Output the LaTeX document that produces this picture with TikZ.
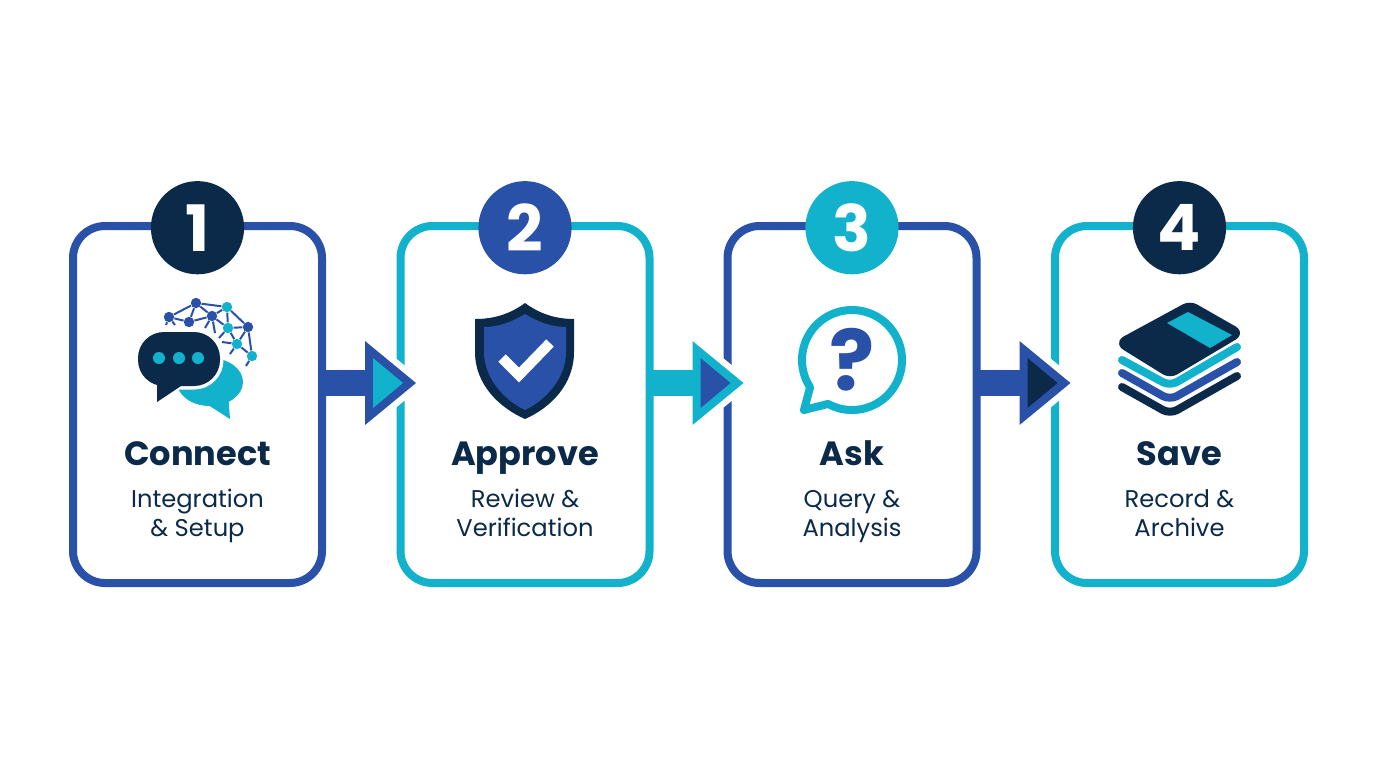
\documentclass[tikz,border=0pt]{standalone}
\usepackage{fontspec}
\setmainfont{Poppins}
\usetikzlibrary{calc}
\definecolor{stepblue}{HTML}{2A51A8}
\definecolor{stepteal}{HTML}{12B2CD}
\definecolor{stepnavy}{HTML}{0B2A4A}
\tikzset{
stepbox/.style={draw, line width=4pt, fill=white, rounded corners=16pt, minimum width=124.5pt, minimum height=178.5pt, inner sep=0pt, outer sep=0pt},
numdisc/.style={circle, minimum size=46.6pt, inner sep=0pt, text=white, font=\fontsize{32}{32}\selectfont\bfseries},
titletext/.style={anchor=base, text=stepnavy, inner sep=0pt, font=\fontsize{16.8}{16.8}\selectfont\bfseries},
subtext/.style={anchor=base, text=stepnavy, inner sep=0pt, font=\fontsize{12.1}{12.1}\selectfont},
netnode/.style={circle, minimum size=5.2pt, inner sep=0pt},
netline/.style={stepblue, line width=1pt},
layer/.style={line width=4pt, line cap=round, line join=round, rounded corners=4pt}
}
\begin{document}
\begin{tikzpicture}[x=.5pt,y=-.5pt]
\useasboundingbox (0,0) rectangle (1376,768);
\fill[white] (0,0) rectangle (1376,768);
\coordinate (level) at (0,383);
\foreach \i/\x/\c/\f/\n/\t/\a/\b in {
1/197.5/stepblue/stepnavy/1/Connect/Integration/\& Setup,
2/525/stepteal/stepblue/2/Approve/Review \&/Verification,
3/852/stepblue/stepteal/3/Ask/Query \&/Analysis,
4/1179.5/stepteal/stepnavy/4/Save/Record \&/Archive}{
\node[stepbox, draw=\c] (box\i) at (\x,404.5) {};
\node[numdisc, fill=\f] (num\i) at (\x,227.7) {\n};
\node[titletext] (title\i) at (\x,465) {\t};
\node[subtext] (suba\i) at (\x,507) {\a};
\node[subtext] (subb\i) at (\x,536) {\b};
}
% arrows between the boxes
\foreach \i/\c/\d in {1/stepblue/stepteal,2/stepteal/stepblue,3/stepblue/stepnavy}{
\coordinate (start\i) at (box\i.east |- level);
\begin{scope}[shift={(start\i)}]
\coordinate (back\i) at (44,0);
\draw[white, line width=6.3pt, miter limit=10] (43,-42)--(94,0)--(43,42)--cycle;
\draw[\c, line width=13pt] (start\i)--(back\i);
\fill[\c] (43,-42)--(94,0)--(43,42)--cycle;
\fill[\d] (51,-25)--(81,0)--(51,25)--cycle;
\end{scope}
}
% connect icon
\foreach \name/\x/\y/\c in {na/169/317/stepblue,nb/189/322/stepblue,nc/196/303/stepblue,nd/212/316/stepblue,ne/227/307/stepteal,nf/248/327/stepblue,ng/228/328/stepteal,nh/237/344/stepteal,ni/252/356/stepteal}{
\node[netnode, fill=\c] (\name) at (\x,\y) {};
}
\foreach \name/\x/\y in {sa/166/325,sb/175/325,sc/205/328,sd/215/333,se/219/338,sf/222/342,sg/230/354,sh/246/366}{
\coordinate (\name) at (\x,\y);
}
\foreach \p/\q in {na/nc,na/nb,nb/nc,nb/nd,nc/nd,nc/ne,nd/ne,ne/nf,ne/ng,nd/ng,ng/nf,ng/nh,nf/nh,nf/ni,nh/ni,na/sa,na/sb,nd/sc,nd/sd,ng/se,nh/sf,nh/sg,ni/sh}{
\draw[netline] (\p)--(\q);
}
\fill[stepteal] (210,382) ellipse[x radius=33, y radius=24];
\fill[stepteal] (205,403)--(230,419)--(228,393)--cycle;
\draw[white, line width=3.5pt, fill=stepnavy, rounded corners=13pt] (138,332) rectangle (220,386);
\fill[stepnavy, rounded corners=13pt] (138,332) rectangle (220,386);
\fill[stepnavy] (157,376)--(157,402)--(184,384)--cycle;
\fill[stepteal] (159,358) circle[radius=6];
\fill[stepteal] (179,358) circle[radius=6];
\fill[stepteal] (198,358) circle[radius=6];
% approve icon
\fill[stepnavy] (525,303) .. controls (540,314) and (556,319) .. (574,319)
--(574,352) .. controls (574,385) and (550,408) .. (525,419)
.. controls (500,408) and (475,385) .. (475,352)
--(475,319) .. controls (494,319) and (510,314) .. (525,303)--cycle;
\fill[stepblue] (525,314) .. controls (538,322) and (552,327) .. (566,327)
--(566,352) .. controls (566,378) and (546,400) .. (525,410)
.. controls (504,400) and (484,378) .. (484,352)
--(484,327) .. controls (498,327) and (512,322) .. (525,314)--cycle;
\draw[white, line width=5.2pt] (502,358)--(519,375)--(550,343);
% ask icon
\draw[stepteal, line width=4pt, fill=white, line join=round] plot[domain=147:478.6, samples=120] ({852+50*cos(\x)},{360+50*sin(\x)})
--(804,410)--cycle;
\node[anchor=base, text=stepblue, inner sep=0pt, font=\fontsize{42}{42}\selectfont\bfseries] (askmark) at (852,390) {?};
% save icon
\draw[layer, stepnavy] (1122,387)--(1170,414)--(1237,376);
\draw[layer, stepblue] (1122,373)--(1170,400)--(1237,362);
\draw[layer, stepteal] (1122,360)--(1170,386)--(1237,347);
\filldraw[stepnavy, line width=4pt, line join=round, rounded corners=3pt] (1120,343)--(1190,305)--(1239,333)--(1170,374)--cycle;
\fill[stepteal] (1188,312)--(1232,335)--(1210,348)--(1167,323)--cycle;
\end{tikzpicture}
\end{document}
